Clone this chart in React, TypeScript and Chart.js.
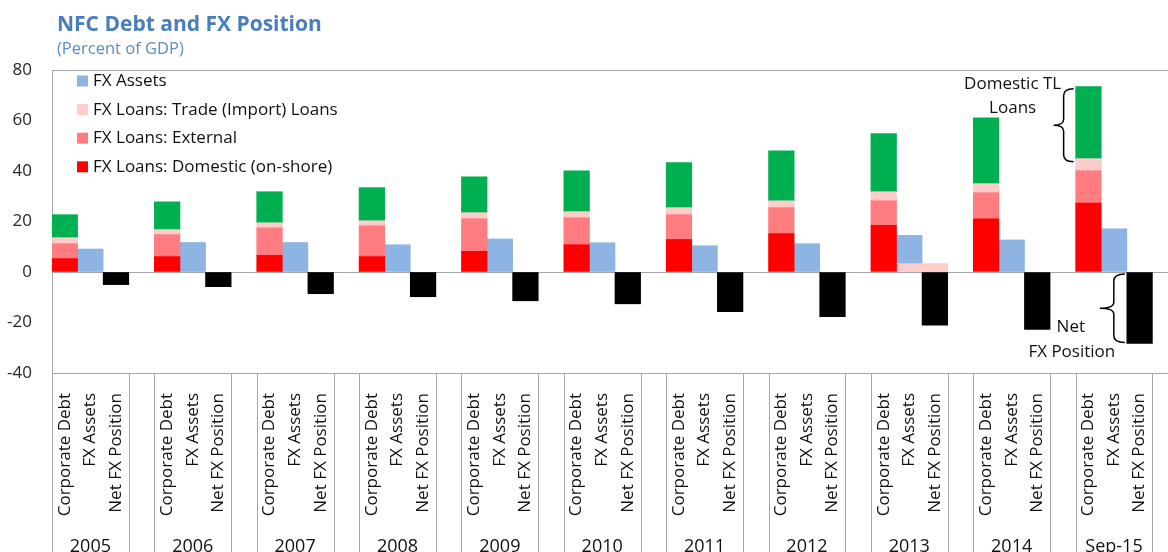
import React, { useEffect, useRef } from "react";
import { Chart, registerables } from "chart.js";

Chart.register(...registerables);

// ---------- data ----------
const years = ["2005", "2006", "2007", "2008", "2009", "2010", "2011", "2012", "2013", "2014", "Sep-15"];
const barNames = ["Corporate Debt", "FX Assets", "Net FX Position"];
const fxLoansDomestic = [5.3, 6.1, 6.6, 6.1, 8.2, 10.8, 12.9, 15.2, 18.5, 21.1, 27.3];
const fxLoansExternal = [5.9, 8.7, 10.9, 12.2, 12.9, 10.7, 9.8, 10.3, 9.7, 10.3, 12.8];
const fxLoansTrade = [2.4, 2.0, 2.0, 2.0, 2.4, 2.4, 2.8, 2.7, 3.6, 3.6, 4.8];
const domesticTL = [9.1, 11.0, 12.3, 13.1, 14.2, 16.2, 17.8, 19.8, 23.0, 26.1, 28.5];
const fxAssets = [9.1, 11.7, 11.7, 10.8, 13.1, 11.6, 10.4, 11.2, 11.2, 12.7, 17.1];
// trade loans also shown under the FX Assets / Net FX Position bars (2013 only)
const tradeUnderAssets = [null, null, null, null, null, null, null, null, 3.3, null, null];
const netFxPosition = [-5.0, -5.8, -8.6, -9.8, -11.4, -12.6, -15.7, -17.7, -21.1, -22.7, -28.3];
const yTicks = [80, 60, 40, 20, 0, -20, -40];

const PER_GROUP = 4; // 3 bars + blank spacer
const GRAY = "#A6A6A6";
const FONT = "'Open Sans', 'Noto Sans', sans-serif";

const COLORS = {
  domestic: "#FF0000",
  external: "#FF7C80",
  trade: "#FFCCCC",
  tl: "#00B050",
  assets: "#8EB4E3",
  net: "#000000",
};

function buildLabels() {
  const out: string[] = [];
  years.forEach(() => {
    barNames.forEach((b) => out.push(b));
    out.push("");
  });
  return out;
}

function series(values: (number | null)[], slot: number) {
  const out: (number | null)[] = [];
  years.forEach((_, i) => {
    for (let k = 0; k < PER_GROUP; k++) out.push(k === slot ? values[i] : null);
  });
  return out;
}

function tradeSeries() {
  const out: (number | null)[] = [];
  years.forEach((_, i) => {
    out.push(fxLoansTrade[i]);
    out.push(tradeUnderAssets[i]);
    out.push(tradeUnderAssets[i]);
    out.push(null);
  });
  return out;
}

const legendItems = [
  { label: "FX Assets", color: COLORS.assets },
  { label: "FX Loans: Trade (Import) Loans", color: COLORS.trade },
  { label: "FX Loans: External", color: COLORS.external },
  { label: "FX Loans: Domestic (on-shore)", color: COLORS.domestic },
];

const CANVAS_W = 1190;
const CANVAS_H = 580;

const decorPlugin = {
  id: "decor",
  afterDraw(chart: any) {
    const ctx = chart.ctx as CanvasRenderingContext2D;
    const area = chart.chartArea;
    const xs = chart.scales.x;
    const ys = chart.scales.y;
    const n = years.length * PER_GROUP;
    const cw = (area.right - area.left) / n;
    const edge = (i: number) => area.left + i * cw;

    ctx.save();
    // Title
    ctx.fillStyle = "#4A7EBB";
    ctx.textAlign = "left";
    ctx.textBaseline = "alphabetic";
    ctx.font = `bold 21px ${FONT}`;
    ctx.fillText("NFC Debt and FX Position", 57, 31);
    ctx.fillStyle = "#5B8DC6";
    ctx.font = `16.5px ${FONT}`;
    ctx.fillText("(Percent of GDP)", 57, 54);

    // group separators + outer labels
    ctx.strokeStyle = GRAY;
    ctx.lineWidth = 1;
    ctx.beginPath();
    for (let g = 0; g < years.length; g++) {
      for (const i of [g * PER_GROUP, g * PER_GROUP + 3]) {
        const x = Math.round(edge(i)) + 0.5;
        ctx.moveTo(x, area.bottom);
        ctx.lineTo(x, CANVAS_H);
      }
    }
    const xe = Math.round(edge(n)) + 0.5;
    ctx.moveTo(xe, area.bottom);
    ctx.lineTo(xe, CANVAS_H);
    ctx.stroke();

    ctx.fillStyle = "#111";
    ctx.font = `18px ${FONT}`;
    ctx.textAlign = "center";
    ctx.textBaseline = "alphabetic";
    years.forEach((yr, g) => {
      const cx = (edge(g * PER_GROUP) + edge(g * PER_GROUP + 3)) / 2;
      ctx.fillText(yr, cx, 552);
    });

    // legend
    ctx.font = `17px ${FONT}`;
    ctx.textAlign = "left";
    legendItems.forEach((it, k) => {
      const base = 86 + k * 28.6;
      ctx.fillStyle = it.color;
      ctx.fillRect(77, base - 10.5, 11, 11);
      ctx.fillStyle = "#111";
      ctx.fillText(it.label, 93, base);
    });

    // brace helper (tip points left)
    const brace = (xr: number, yTop: number, yBot: number, spineOff: number, tipOff: number) => {
      const sx = xr - spineOff;
      const tx = xr - tipOff;
      const ym = (yTop + yBot) / 2;
      ctx.beginPath();
      ctx.moveTo(xr - 2, yTop);
      ctx.quadraticCurveTo(sx, yTop, sx, yTop + 7);
      ctx.lineTo(sx, ym - 6);
      ctx.quadraticCurveTo(sx, ym, tx, ym);
      ctx.quadraticCurveTo(sx, ym, sx, ym + 6);
      ctx.lineTo(sx, yBot - 7);
      ctx.quadraticCurveTo(sx, yBot, xr - 2, yBot);
      ctx.stroke();
      return { tx, ym };
    };

    const last = years.length - 1;
    ctx.strokeStyle = "#000";
    ctx.lineWidth = 1.5;
    // Domestic TL brace on latest corporate debt bar
    const cdIdx = last * PER_GROUP;
    const cdLeft = xs.getPixelForValue(cdIdx) - cw / 2;
    const below = fxLoansDomestic[last] + fxLoansExternal[last] + fxLoansTrade[last];
    const b1 = brace(cdLeft, ys.getPixelForValue(below + domesticTL[last]) + 2, ys.getPixelForValue(below) + 3, 12, 22);
    ctx.fillStyle = "#111";
    ctx.font = `17px ${FONT}`;
    ctx.textAlign = "center";
    ctx.fillText("Domestic TL", b1.tx - 41, b1.ym - 36);
    ctx.fillText("Loans", b1.tx - 41, b1.ym - 12);

    // Net FX brace
    const nIdx = last * PER_GROUP + 2;
    const nLeft = xs.getPixelForValue(nIdx) - cw / 2;
    const b2 = brace(nLeft, ys.getPixelForValue(0) + 2, ys.getPixelForValue(netFxPosition[last]) - 1, 13, 27);
    ctx.fillText("Net", b2.tx - 29, b2.ym + 24);
    ctx.fillText("FX Position", b2.tx - 28, b2.ym + 49);
    ctx.restore();
  },
};

export default function App() {
  const ref = useRef<HTMLCanvasElement | null>(null);

  useEffect(() => {
    if (!ref.current) return;
    const labels = buildLabels();
    const chart = new Chart(ref.current, {
      type: "bar",
      data: {
        labels,
        datasets: [
          { label: "FX Loans: Domestic (on-shore)", data: series(fxLoansDomestic, 0), backgroundColor: COLORS.domestic },
          { label: "FX Loans: External", data: series(fxLoansExternal, 0), backgroundColor: COLORS.external },
          { label: "FX Loans: Trade (Import) Loans", data: tradeSeries(), backgroundColor: COLORS.trade },
          { label: "Domestic TL Loans", data: series(domesticTL, 0), backgroundColor: COLORS.tl },
          { label: "FX Assets", data: series(fxAssets, 1), backgroundColor: COLORS.assets },
          { label: "Net FX Position", data: series(netFxPosition, 2), backgroundColor: COLORS.net },
        ],
      },
      options: {
        responsive: false,
        animation: false,
        devicePixelRatio: 1,
        layout: { padding: { top: 70, left: 0, right: 12, bottom: 0 } },
        datasets: { bar: { barPercentage: 1, categoryPercentage: 1, borderWidth: 0 } },
        plugins: { legend: { display: false }, tooltip: { enabled: false }, title: { display: false } },
        scales: {
          x: {
            stacked: true,
            offset: true,
            grid: { display: false, drawTicks: false },
            border: { display: true, color: GRAY },
            ticks: {
              autoSkip: false,
              maxRotation: 90,
              minRotation: 90,
              padding: 20,
              color: "#111",
              font: { family: FONT, size: 17 },
            },
            afterFit: (s: any) => {
              s.height = CANVAS_H - 373;
              s.paddingLeft = 0;
              s.paddingRight = 0;
            },
          },
          y: {
            stacked: true,
            min: -40,
            max: 80,
            afterBuildTicks: (s: any) => {
              s.ticks = yTicks.map((v) => ({ value: v }));
            },
            grid: {
              drawTicks: false,
              color: (c: any) => (c.tick && [80, 0, -40].includes(c.tick.value) ? GRAY : "rgba(0,0,0,0)"),
            },
            border: { display: true, color: GRAY },
            ticks: { padding: 20, color: "#262626", font: { family: FONT, size: 17 } },
            afterFit: (s: any) => {
              s.width = 52;
            },
          },
        },
      },
      plugins: [decorPlugin],
    });
    return () => chart.destroy();
  }, []);

  return (
    <div style={{ position: "fixed", left: 0, top: 0, width: 1168, height: 552, overflow: "hidden", background: "#fff" }}>
      <canvas ref={ref} width={CANVAS_W} height={CANVAS_H} style={{ display: "block", width: CANVAS_W, height: CANVAS_H }} />
    </div>
  );
}
